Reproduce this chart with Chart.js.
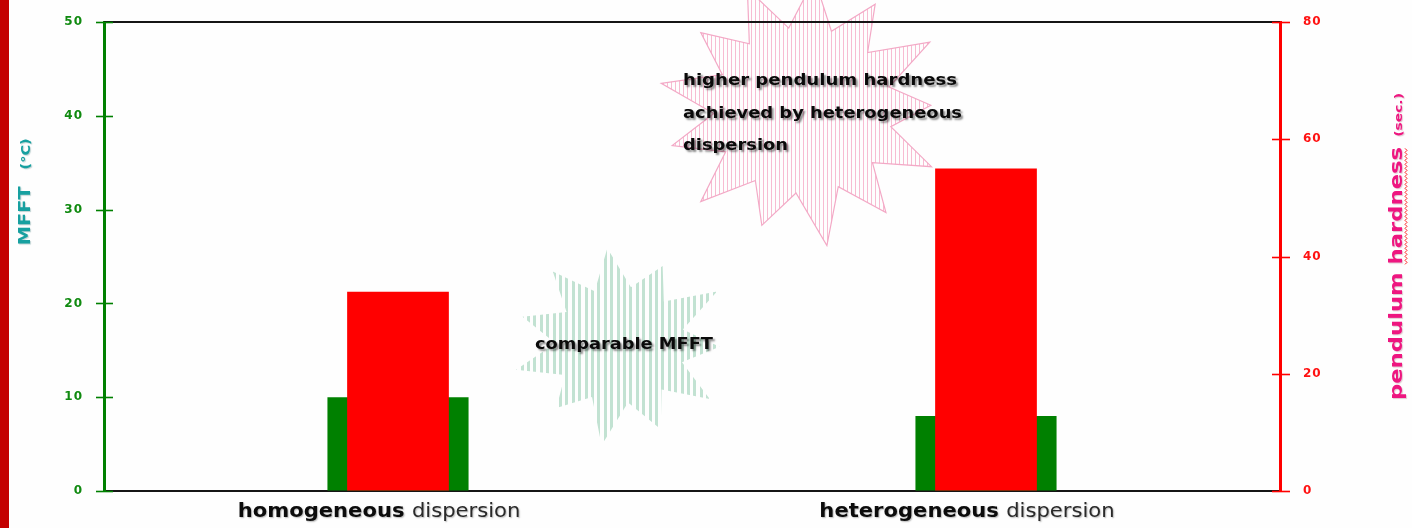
<!DOCTYPE html>
<html>
<head>
<meta charset="utf-8">
<title>MFFT and pendulum hardness</title>
<script src="https://cdn.jsdelivr.net/npm/chart.js@4.4.1/dist/chart.umd.min.js"></script>
<style>
html,body{margin:0;padding:0;background:#fefefe;overflow:hidden;}
#wrap{position:relative;width:1412px;height:528px;}
</style>
</head>
<body>
<div id="wrap"><canvas id="chart"></canvas></div>
<script>
// ---------- data ----------
const categories = ['homogeneous', 'heterogeneous'];
const categorySuffix = 'dispersion';
const mfftValues = [10, 8];          // MFFT (°C) - left axis
const hardnessValues = [34, 55];     // pendulum hardness (sec.) - right axis
const mfftTicks = [0, 10, 20, 30, 40, 50];
const hardnessTicks = [0, 20, 40, 60, 80];
const mfftTitle = ['MFFT', '(°C)'];
const hardnessTitle = ['pendulum hardness', '(sec.)'];
const noteComparable = ['comparable MFFT'];
const noteHardness = ['higher pendulum hardness', 'achieved by heterogeneous', 'dispersion'];

// ---------- style ----------
const C = {
  green: '#008000', red: '#ff0000', greenTick: '#108a10', redTick: '#ff1212',
  teal: '#17a0a0', pink: '#ee1680', ink: '#0a0a0a', frame: '#151515',
  strip: '#c40000', bg: '#fefefe'
};
const FONT = '"DejaVu Sans", Verdana, sans-serif';
const FONT_C = '"DejaVu Sans Condensed", "DejaVu Sans", sans-serif';

// decorations placed in data units (x: category index, y: left-axis value)
const bursts = [
  { x: 0.378, y: 15.6, rx: 108, ry: 97, spikes: 11, inner: 0.6, rot: -0.12,
    tips: [1, 0.9, 1.05, 0.92, 1, 0.95, 1.05, 0.88, 1, 0.95, 0.98],
    stripe: '#c2e2d2', stripeW: 3, step: 6.4, outline: null },
  { x: 0.689, y: 40.6, rx: 142, ry: 132, spikes: 13, inner: 0.63, rot: 0.08,
    tips: [1, 0.95, 1.03, 0.9, 1, 0.97, 1.04, 0.92, 1, 0.96, 1.02, 0.93, 1],
    stripe: '#f7bcd2', stripeW: 1, step: 4, outline: '#f3a9c6' }
];
const notes = [
  { lines: noteComparable, x: 0.233, y: 15.14, widths: [178], lh: 0 },
  { lines: noteHardness, x: 0.4847, y: 43.28, widths: [274, 279, 105], lh: 32.5 }
];
const titleStyle = {
  left: { yValue: 31.9, baseX: 29.5, width: 107, gap: 14 },
  right: { yValue: 41.7, baseX: 1402, width: 307, gap: 8 }
};
const catLabel = { dx: -19, baseline: 517, sx: 1.055 };

// ---------- helpers ----------
function drawRun(ctx, segs, x, y, opt) {
  ctx.save();
  const widths = segs.map(s => { ctx.font = s.font; return ctx.measureText(s.t).width; });
  const gap = opt.gap || 0;
  const natural = widths.reduce((a, b) => a + b, 0) + gap * (segs.length - 1);
  const sx = opt.width ? opt.width / natural : (opt.sx || 1);
  const total = natural * sx;
  const start = opt.align === 'center' ? x - total / 2 : opt.align === 'right' ? x - total : x;
  ctx.translate(start, y);
  ctx.scale(sx, 1);
  ctx.textAlign = 'left';
  ctx.textBaseline = opt.baseline || 'alphabetic';
  if (opt.shadow) {
    ctx.shadowColor = opt.shadow.color;
    ctx.shadowOffsetX = opt.shadow.dx;
    ctx.shadowOffsetY = opt.shadow.dy;
    ctx.shadowBlur = opt.shadow.blur;
  }
  let cx = 0;
  const pos = [];
  segs.forEach((s, i) => {
    ctx.font = s.font; ctx.fillStyle = s.color;
    ctx.fillText(s.t, cx, 0);
    pos.push(cx);
    cx += widths[i] + gap;
  });
  ctx.restore();
  return { start, sx, widths, pos };
}

function starPath(ctx, cx, cy, b) {
  ctx.beginPath();
  for (let i = 0; i < 2 * b.spikes; i++) {
    const ang = b.rot + i * Math.PI / b.spikes - Math.PI / 2;
    const r = i % 2 === 0 ? b.tips[(i / 2) % b.tips.length] : b.inner;
    const px = cx + Math.cos(ang) * b.rx * r;
    const py = cy + Math.sin(ang) * b.ry * r;
    if (i === 0) ctx.moveTo(px, py); else ctx.lineTo(px, py);
  }
  ctx.closePath();
}

const deco = {
  id: 'deco',
  beforeDraw(chart) {
    const { ctx, scales } = chart;
    ctx.save();
    ctx.fillStyle = C.bg;
    ctx.fillRect(0, 0, chart.width, chart.height);
    ctx.fillStyle = C.strip;
    ctx.fillRect(0, 0, 9, chart.height);
    bursts.forEach(b => {
      const cx = scales.x.getPixelForValue(b.x);
      const cy = scales.y.getPixelForValue(b.y);
      ctx.save();
      starPath(ctx, cx, cy, b);
      ctx.clip();
      ctx.fillStyle = b.stripe;
      for (let xx = cx - b.rx * 1.1; xx < cx + b.rx * 1.1; xx += b.step) {
        ctx.fillRect(Math.round(xx), cy - b.ry * 1.1, b.stripeW, b.ry * 2.2);
      }
      ctx.restore();
      if (b.outline) {
        starPath(ctx, cx, cy, b);
        ctx.strokeStyle = b.outline;
        ctx.lineWidth = 1.2;
        ctx.stroke();
      }
    });
    ctx.restore();
    ctx.letterSpacing = '1px';
  },
  beforeDatasetsDraw(chart) {
    chart.ctx.letterSpacing = '0px';
  },
  afterDraw(chart) {
    const { ctx, chartArea: a, scales } = chart;
    ctx.save();
    ctx.letterSpacing = '0px';
    // top frame line
    ctx.strokeStyle = C.frame;
    ctx.lineWidth = 2;
    ctx.beginPath();
    ctx.moveTo(a.left, a.top); ctx.lineTo(a.right, a.top);
    ctx.stroke();
    // tick crosses on both value axes
    ctx.lineWidth = 1.6;
    ctx.strokeStyle = C.green;
    mfftTicks.forEach(v => {
      const y = Math.round(scales.y.getPixelForValue(v)) + 0.5;
      ctx.beginPath(); ctx.moveTo(a.left - 8, y); ctx.lineTo(a.left + 9, y); ctx.stroke();
    });
    ctx.strokeStyle = C.red;
    hardnessTicks.forEach(v => {
      const y = Math.round(scales.y2.getPixelForValue(v)) + 0.5;
      ctx.beginPath(); ctx.moveTo(a.right - 8, y); ctx.lineTo(a.right + 10, y); ctx.stroke();
    });

    // category labels
    categories.forEach((cat, i) => {
      const x = scales.x.getPixelForValue(i) + catLabel.dx;
      drawRun(ctx, [
        { t: cat, font: 'bold 20px ' + FONT, color: '#0c0c0c' },
        { t: categorySuffix, font: '20px ' + FONT, color: '#2a2a2a' }
      ], x, catLabel.baseline, { align: 'center', sx: catLabel.sx, gap: 7,
        shadow: { color: 'rgba(0,0,0,0.28)', dx: 1, dy: 1, blur: 1.5 } });
    });

    // left axis title (rotated)
    ctx.save();
    ctx.translate(titleStyle.left.baseX, scales.y.getPixelForValue(titleStyle.left.yValue));
    ctx.rotate(-Math.PI / 2);
    drawRun(ctx, [
      { t: mfftTitle[0], font: 'bold 16px ' + FONT, color: C.teal },
      { t: mfftTitle[1], font: 'bold 12px ' + FONT, color: C.teal }
    ], 0, 0, { align: 'center', width: titleStyle.left.width, gap: titleStyle.left.gap,
      shadow: { color: 'rgba(0,80,80,0.25)', dx: 1, dy: 1, blur: 1 } });
    ctx.restore();

    // right axis title (rotated) with wavy underline under "hardness"
    ctx.save();
    ctx.translate(titleStyle.right.baseX, scales.y2.getPixelForValue(titleStyle.right.yValue));
    ctx.rotate(-Math.PI / 2);
    const segR = [
      { t: hardnessTitle[0], font: 'bold 18px ' + FONT, color: C.pink },
      { t: hardnessTitle[1], font: 'bold 11px ' + FONT, color: C.pink }
    ];
    const r = drawRun(ctx, segR, 0, 0, { align: 'center', width: titleStyle.right.width,
      gap: titleStyle.right.gap, shadow: { color: 'rgba(120,0,40,0.22)', dx: 1, dy: 1, blur: 1 } });
    ctx.font = segR[0].font;
    const words = hardnessTitle[0].split(' ');
    const pre = ctx.measureText(words[0] + ' ').width * r.sx;
    const wlen = ctx.measureText(words[1]).width * r.sx;
    ctx.strokeStyle = '#ff2020';
    ctx.lineWidth = 1;
    ctx.beginPath();
    let k = 0;
    for (let xx = r.start + pre; xx <= r.start + pre + wlen; xx += 2, k++) {
      const yy = 3 + (k % 2 ? 2 : 0);
      if (k === 0) ctx.moveTo(xx, yy); else ctx.lineTo(xx, yy);
    }
    ctx.stroke();
    ctx.restore();

    // annotation texts
    notes.forEach(n => {
      const x0 = scales.x.getPixelForValue(n.x);
      const y0 = scales.y.getPixelForValue(n.y);
      n.lines.forEach((ln, i) => {
        drawRun(ctx, [{ t: ln, font: 'bold 16px ' + FONT_C, color: C.ink }],
          x0, y0 + i * n.lh, { align: 'left', width: n.widths[i],
            shadow: { color: 'rgba(0,0,0,0.45)', dx: 2, dy: 2, blur: 2 } });
      });
    });
    ctx.restore();
  }
};

// ---------- chart ----------
new Chart(document.getElementById('chart'), {
  type: 'bar',
  data: {
    labels: categories,
    datasets: [
      { label: 'pendulum hardness (sec.)', data: hardnessValues, yAxisID: 'y2',
        backgroundColor: C.red, borderWidth: 0, grouped: false,
        barPercentage: 0.173, categoryPercentage: 1, order: 0 },
      { label: 'MFFT (°C)', data: mfftValues, yAxisID: 'y',
        backgroundColor: C.green, borderWidth: 0, grouped: false,
        barPercentage: 0.24, categoryPercentage: 1, order: 1 }
    ]
  },
  options: {
    responsive: true,
    maintainAspectRatio: false,
    animation: false,
    layout: { padding: { top: 22, left: 0, right: 0, bottom: 0 } },
    plugins: { legend: { display: false }, tooltip: { enabled: false } },
    scales: {
      x: {
        type: 'category', offset: true,
        grid: { display: false, drawTicks: false },
        border: { display: true, color: C.frame, width: 2 },
        ticks: { display: false },
        afterFit: s => { s.height = 37; }
      },
      y: {
        position: 'left', min: 0, max: 50,
        afterBuildTicks: s => { s.ticks = mfftTicks.map(v => ({ value: v })); },
        grid: { drawOnChartArea: false, drawTicks: true, tickLength: 21, tickColor: 'rgba(0,0,0,0)' },
        border: { display: true, color: C.green, width: 3 },
        ticks: { color: C.greenTick, padding: 0, font: { family: FONT, size: 12, weight: 'bold' } },
        afterFit: s => { s.width = 104; }
      },
      y2: {
        position: 'right', min: 0, max: 80,
        afterBuildTicks: s => { s.ticks = hardnessTicks.map(v => ({ value: v })); },
        grid: { drawOnChartArea: false, drawTicks: true, tickLength: 23, tickColor: 'rgba(0,0,0,0)' },
        border: { display: true, color: C.red, width: 3 },
        ticks: { color: C.redTick, padding: 0, font: { family: FONT, size: 12, weight: 'bold' } },
        afterFit: s => { s.width = 132; }
      }
    }
  },
  plugins: [deco]
});
</script>
</body>
</html>
